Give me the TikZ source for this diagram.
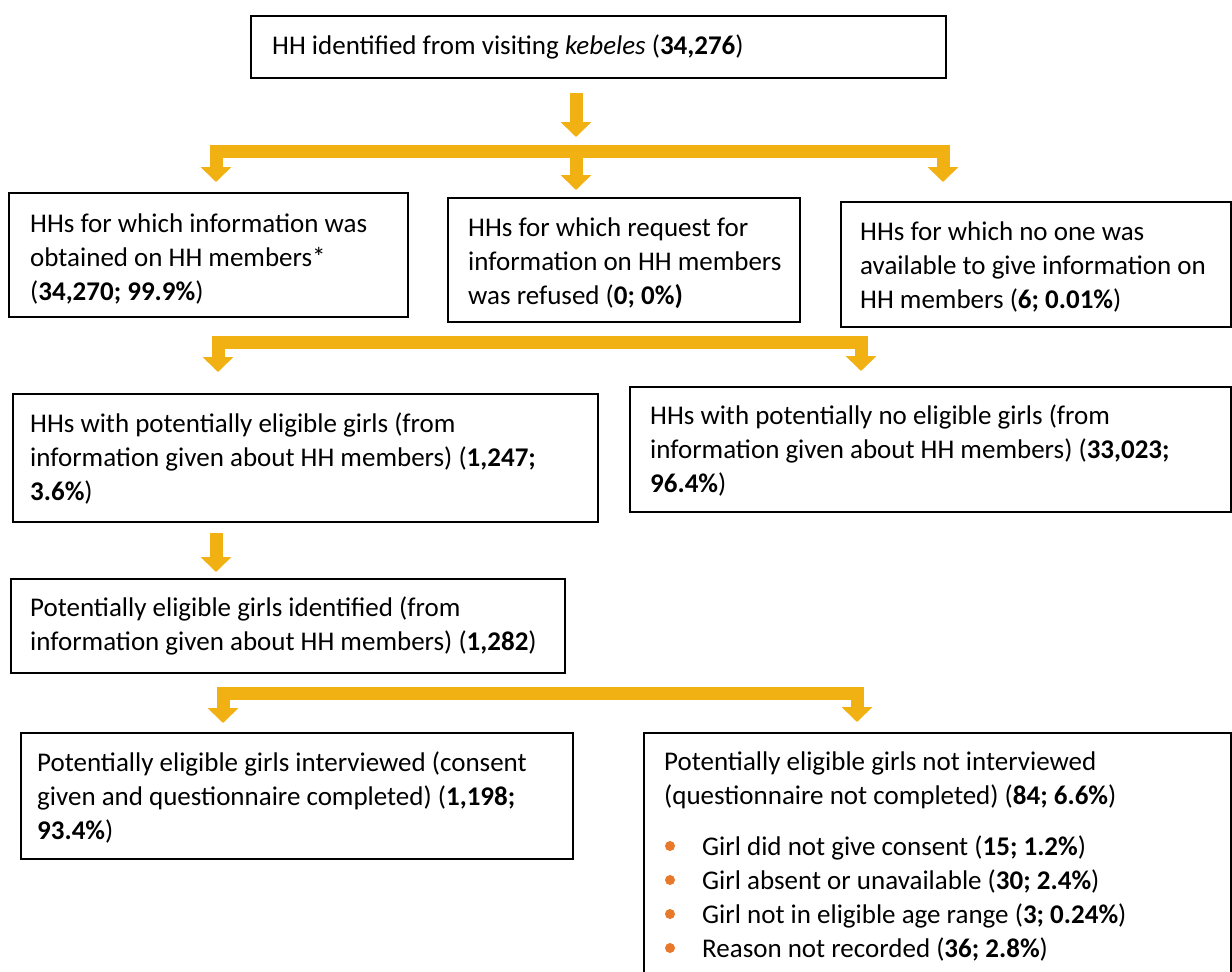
\documentclass[tikz,border=0pt]{standalone}
\usepackage{fontspec}
\setmainfont{Carlito}
\usetikzlibrary{arrows.meta}
\definecolor{arrowgold}{HTML}{F1B112}
\definecolor{bulletorange}{HTML}{E8792B}
\tikzset{
  box/.style={draw=black, line width=2pt, inner sep=0pt, anchor=north west},
  txt/.style={inner sep=0pt, anchor=north west, align=left, font=\fontsize{27}{34}\selectfont},
  barrow/.style={draw=arrowgold, line width=13pt, line join=miter, -{Triangle[width=30pt,length=15pt]}},
  dot/.style={circle, fill=bulletorange, inner sep=0pt, minimum size=10pt},
}
\begin{document}
\begin{tikzpicture}[x=1pt,y=-1pt]
\useasboundingbox[fill=white] (0,0) rectangle (1232,972);

% boxes
\node[box, minimum width=695pt, minimum height=62pt] (top) at (250,15) {};
\node[box, minimum width=399pt, minimum height=124pt] (A) at (8,192) {};
\node[box, minimum width=352pt, minimum height=124pt] (B) at (447,197) {};
\node[box, minimum width=390pt, minimum height=125pt] (C) at (840,201) {};
\node[box, minimum width=585pt, minimum height=128pt] (D) at (12,393) {};
\node[box, minimum width=601pt, minimum height=125pt] (E) at (629,386) {};
\node[box, minimum width=554pt, minimum height=94pt] (F) at (10,578) {};
\node[box, minimum width=552pt, minimum height=126pt] (G) at (20,732) {};
\node[box, minimum width=587pt, minimum height=250pt] (H) at (643,732) {};

% texts
\node[txt] (ttop) at (272,35) {HH identified from visiting \textit{kebeles} (\textbf{34,276})};
\node[txt] (tA) at (30,214) {HHs for which information was\\obtained on HH members*\\(\textbf{34,270; 99.9\%})};
\node[txt] (tB) at (468,218) {HHs for which request for\\information on HH members\\was refused (\textbf{0; 0\%)}};
\node[txt] (tC) at (860,222) {HHs for which no one was\\available to give information on\\HH members (\textbf{6; 0.01\%})};
\node[txt] (tD) at (30,413) {HHs with potentially eligible girls (from\\information given about HH members) (\textbf{1,247;}\\\textbf{3.6\%})};
\node[txt] (tE) at (650,405) {HHs with potentially no eligible girls (from\\information given about HH members) (\textbf{33,023;}\\\textbf{96.4\%})};
\node[txt] (tF) at (30,597) {Potentially eligible girls identified (from\\information given about HH members) (\textbf{1,282})};
\node[txt] (tG) at (37,752) {Potentially eligible girls interviewed (consent\\given and questionnaire completed) (\textbf{1,198;}\\\textbf{93.4\%})};
\node[txt] (tH) at (664,752) {Potentially eligible girls not interviewed\\(questionnaire not completed) (\textbf{84; 6.6\%})};

\node[txt] (b1) at (702,836) {Girl did not give consent (\textbf{15; 1.2\%})};
\node[txt] (b2) at (702,870) {Girl absent or unavailable (\textbf{30; 2.4\%})};
\node[txt] (b3) at (702,904) {Girl not in eligible age range (\textbf{3; 0.24\%})};
\node[txt] (b4) at (702,938) {Reason not recorded (\textbf{36; 2.8\%})};
\node[dot] (d1) at (670,846) {};
\node[dot] (d2) at (670,880) {};
\node[dot] (d3) at (670,914) {};
\node[dot] (d4) at (670,948) {};

% connector points
\coordinate (s0) at (576,93);
\coordinate (s1) at (576,151);
\coordinate (aA) at (216,182);
\coordinate (aB) at (576,190);
\coordinate (aC) at (943,182);
\coordinate (s2) at (540,342);
\coordinate (aD) at (218,372);
\coordinate (aE) at (861,371);
\coordinate (s3) at (216,533);
\coordinate (aF) at (216,572);
\coordinate (s4) at (540,693);
\coordinate (aG) at (223,723);
\coordinate (aH) at (857,722);

\draw[barrow] (s0) -- (576,137);
\draw[barrow] (s1) -| (aA);
\draw[barrow] (s1) -| (aC);
\draw[barrow] (s1) -- (aB);
\draw[barrow] (s2) -| (aD);
\draw[barrow] (s2) -| (aE);
\draw[barrow] (s3) -- (aF);
\draw[barrow] (s4) -| (aG);
\draw[barrow] (s4) -| (aH);
\end{tikzpicture}
\end{document}
